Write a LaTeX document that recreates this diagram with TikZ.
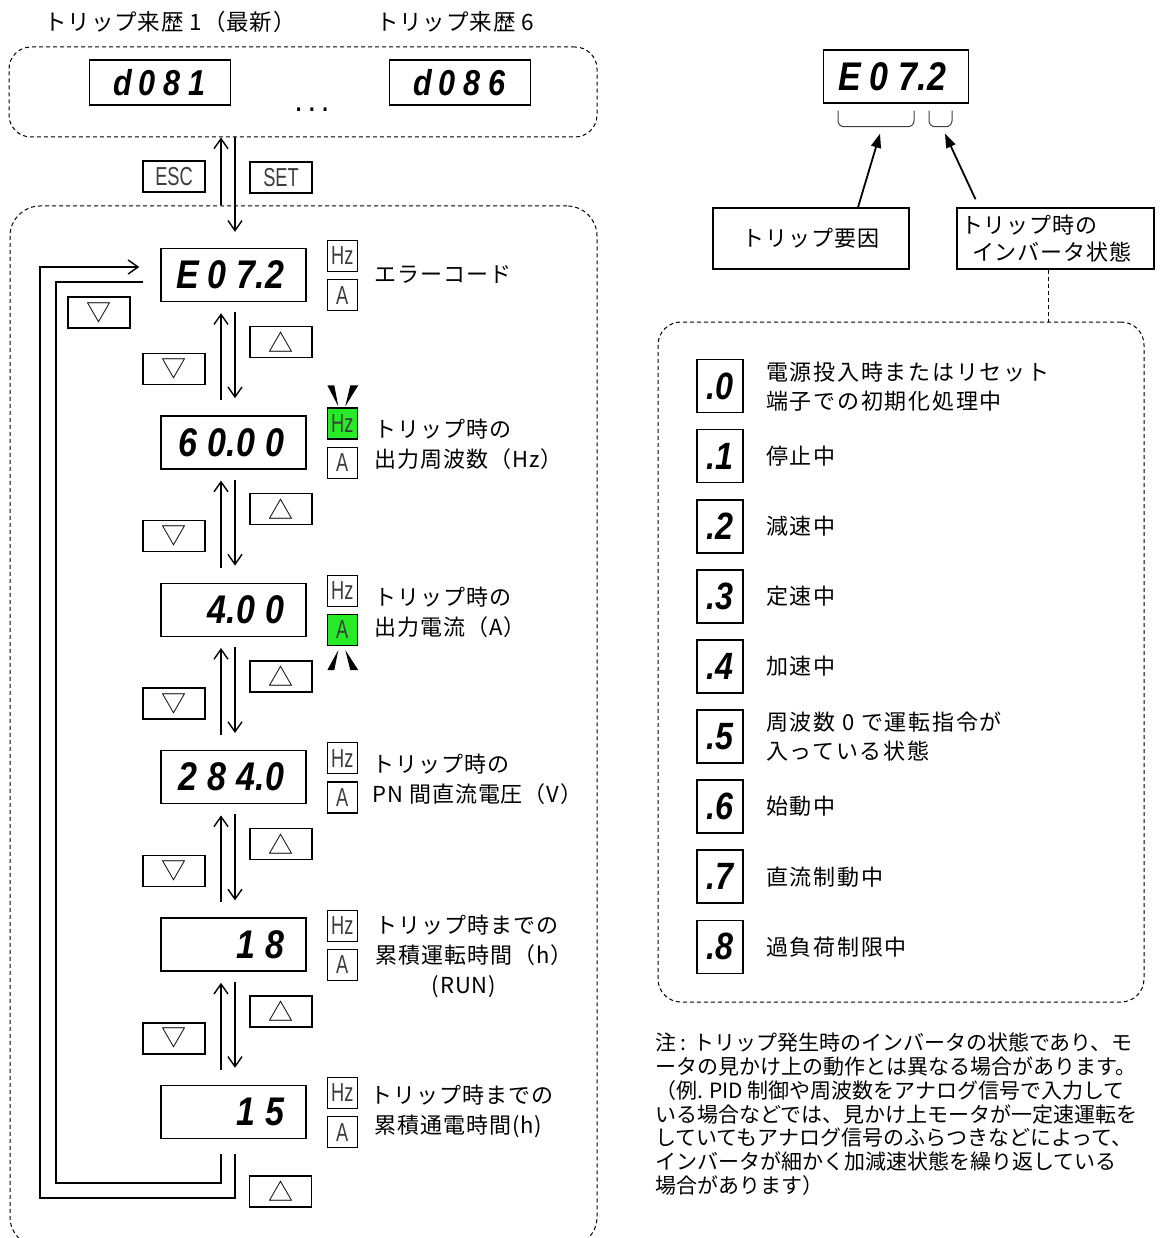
\documentclass[tikz,border=0pt]{standalone}
\usepackage{fontspec}
\setmainfont{Noto Sans CJK JP}
\newfontfamily\segfont{Liberation Sans}[FakeStretch=0.85]
\newfontfamily\keyfont{Liberation Sans}[FakeStretch=0.7]
\newfontfamily\jpfont{Noto Sans CJK JP}[LetterSpace=4]
\newfontfamily\jpwide{Noto Sans CJK JP}[LetterSpace=8]
\usetikzlibrary{arrows.meta,positioning,calc}
\definecolor{ledgreen}{RGB}{40,235,40}
\definecolor{keygray}{RGB}{60,60,60}
\newlength\segcell
\setlength\segcell{29pt}
\makeatletter
\newcommand\segtext[1]{\@tfor\segch:=#1\do{\if.\segch\makebox[0pt]{.}\else\makebox[\segcell]{\segch}\fi}}
\makeatother
\newcommand\segdisp[1]{\makebox[111pt][r]{\segtext{#1}}}
\tikzset{
  dispbox/.style={draw, line width=1.4pt, minimum width=145pt, minimum height=53pt, inner sep=0pt,
    font=\segfont\bfseries\itshape\fontsize{40}{40}\selectfont},
  histbox/.style={draw, line width=1.4pt, minimum width=141pt, minimum height=45pt, inner sep=0pt,
    font=\segfont\bfseries\itshape\fontsize{36}{36}\selectfont\setlength\segcell{25pt}},
  unitbox/.style={draw, line width=1.2pt, minimum width=30pt, minimum height=31pt, inner sep=0pt,
    font=\keyfont\fontsize{26}{26}\selectfont, text=keygray},
  litbox/.style={unitbox, fill=ledgreen},
  keybox/.style={draw, line width=1.4pt, minimum width=62pt, minimum height=31pt, inner sep=0pt,
    font=\keyfont\fontsize{26}{26}\selectfont, text=keygray},
  trikey/.style={keybox, font=\fontsize{25}{25}\selectfont, text=black},
  statebox/.style={draw, line width=1.6pt, minimum width=46pt, minimum height=53pt, inner sep=0pt,
    font=\segfont\bfseries\itshape\fontsize{38}{38}\selectfont},
  infobox/.style={draw, line width=1.4pt, minimum height=61pt, font=\jpfont\fontsize{22}{27}\selectfont},
  toptext/.style={inner sep=0pt, font=\jpfont\fontsize{22.5}{26}\selectfont},
  menutext/.style={anchor=west, inner sep=0pt, align=left, font=\jpfont\fontsize{22}{30}\selectfont},
  legendtext/.style={anchor=west, inner sep=0pt, align=left, font=\jpwide\fontsize{22}{29}\selectfont},
  notetext/.style={anchor=north west, inner sep=0pt, align=left, font=\fontsize{21}{23.7}\selectfont},
  groupbox/.style={draw, dashed, dash pattern=on 4pt off 3pt, line width=1pt, rounded corners=#1},
  groupbox/.default=22pt,
  bracket/.style={line width=1pt, rounded corners=6pt, draw=black!75},
  flow/.style={-{Straight Barb[length=10pt,width=14pt,line width=1.4pt]}, line width=1.4pt},
  pointer/.style={-{Triangle[length=14pt,width=10pt]}, line width=1.8pt},
  dashline/.style={dashed, dash pattern=on 4pt off 3pt, line width=1pt}
}

\begin{document}
\begin{tikzpicture}[x=1pt, y=-1pt]
\useasboundingbox (0,0) rectangle (1162,1238);

% trip history
\node[groupbox, minimum width=588pt, minimum height=90pt] (hist) at (303,92) {};
\node[histbox] (h1) at (160,82.5) {\segtext{d081}};
\node[histbox] (h6) at (460,82.5) {\segtext{d086}};
\node[toptext] (l1) at (170,22) {トリップ来歴 1（最新）};
\node[toptext] (l6) at (455,22) {トリップ来歴 6};
\node[inner sep=0pt, font=\segfont\bfseries\fontsize{24}{24}\selectfont] (dots) at (312,110) {. . .};

% monitor menu
\node[groupbox=30pt, minimum width=587pt, minimum height=1041pt] (menu) at (303.5,726.5) {};
\node[dispbox] (d1) at (233.5,275) {\segdisp{E07.2}};
\node[dispbox, below=113pt of d1] (d2) {\segdisp{60.00}};
\node[dispbox, below=113pt of d2] (d3) {\segdisp{4.00}};
\node[dispbox, below=113pt of d3] (d4) {\segdisp{284.0}};
\node[dispbox, below=113pt of d4] (d5) {\segdisp{18}};
\node[dispbox, below=113pt of d5] (d6) {\segdisp{15}};

\node[unitbox, right=20pt of d1.east, yshift=19pt] (hz1) {Hz};
\node[unitbox, below=7pt of hz1] (a1) {A};
\node[litbox, right=20pt of d2.east, yshift=19pt] (hz2) {Hz};
\node[unitbox, below=7pt of hz2] (a2) {A};
\node[unitbox, right=20pt of d3.east, yshift=19pt] (hz3) {Hz};
\node[litbox, below=7pt of hz3] (a3) {A};
\node[unitbox, right=20pt of d4.east, yshift=19pt] (hz4) {Hz};
\node[unitbox, below=7pt of hz4] (a4) {A};
\node[unitbox, right=20pt of d5.east, yshift=19pt] (hz5) {Hz};
\node[unitbox, below=7pt of hz5] (a5) {A};
\node[unitbox, right=20pt of d6.east, yshift=19pt] (hz6) {Hz};
\node[unitbox, below=7pt of hz6] (a6) {A};

\node[menutext] (t1) at ($(d1.east)+(68,0)$) {エラーコード};
\node[menutext] (t2) at ($(d2.east)+(68,2)$) {トリップ時の\\出力周波数（Hz）};
\node[menutext] (t3) at ($(d3.east)+(68,2)$) {トリップ時の\\出力電流（A）};
\node[menutext] (t4) at ($(d4.east)+(66,2)$) {トリップ時の\\PN 間直流電圧（V）};
\node[menutext] (t5) at ($(d5.east)+(69,12)$) {トリップ時までの\\累積運転時間（h）\\\hspace*{56pt}(RUN)};
\node[menutext] (t6) at ($(d6.east)+(64,-1)$) {トリップ時までの\\\hspace*{4pt}累積通電時間(h)};

% blinking lamps
\fill ($(hz2.north)+(-15,-22)$) -- ($(hz2.north)+(-8,-22)$) -- ($(hz2.north)+(-4,-1)$) -- cycle;
\fill ($(hz2.north)+(8,-22)$) -- ($(hz2.north)+(16,-22)$) -- ($(hz2.north)+(3,-1)$) -- cycle;
\fill ($(a3.south)+(-15,24)$) -- ($(a3.south)+(-8,24)$) -- ($(a3.south)+(-4,4)$) -- cycle;
\fill ($(a3.south)+(8,24)$) -- ($(a3.south)+(16,24)$) -- ($(a3.south)+(3,4)$) -- cycle;

% ESC / SET
\draw[flow] ($(d1.north |- menu.north)+(-12.5,0)$) -- ($(d1.north |- hist.south)+(-12.5,0)$);
\draw[flow] ($(d1.north |- hist.south)+(1.5,0)$) -- ($(d1.north)+(1.5,-16)$);
\node[keybox] (esc) at ($(d1.north |- hist.south)!0.5!(d1.north |- menu.north)+(-59.5,5)$) {ESC};
\node[keybox] (set) at ($(d1.north |- hist.south)!0.5!(d1.north |- menu.north)+(47.5,6)$) {SET};

% up / down keys
\draw[flow] ($(d2.north)+(-12.5,-15)$) -- ($(d1.south)+(-12.5,11)$);
\draw[flow] ($(d1.south)+(1.5,10)$) -- ($(d2.north)+(1.5,-17)$);
\node[trikey] (dn1) at ($(d1.south)!0.5!(d2.north)+(-59.5,10)$) {▽};
\node[trikey] (up1) at ($(d1.south)!0.5!(d2.north)+(47.5,-17)$) {△};
\draw[flow] ($(d3.north)+(-12.5,-15)$) -- ($(d2.south)+(-12.5,11)$);
\draw[flow] ($(d2.south)+(1.5,10)$) -- ($(d3.north)+(1.5,-17)$);
\node[trikey] (dn2) at ($(d2.south)!0.5!(d3.north)+(-59.5,10)$) {▽};
\node[trikey] (up2) at ($(d2.south)!0.5!(d3.north)+(47.5,-17)$) {△};
\draw[flow] ($(d4.north)+(-12.5,-15)$) -- ($(d3.south)+(-12.5,11)$);
\draw[flow] ($(d3.south)+(1.5,10)$) -- ($(d4.north)+(1.5,-17)$);
\node[trikey] (dn3) at ($(d3.south)!0.5!(d4.north)+(-59.5,10)$) {▽};
\node[trikey] (up3) at ($(d3.south)!0.5!(d4.north)+(47.5,-17)$) {△};
\draw[flow] ($(d5.north)+(-12.5,-15)$) -- ($(d4.south)+(-12.5,11)$);
\draw[flow] ($(d4.south)+(1.5,10)$) -- ($(d5.north)+(1.5,-17)$);
\node[trikey] (dn4) at ($(d4.south)!0.5!(d5.north)+(-59.5,10)$) {▽};
\node[trikey] (up4) at ($(d4.south)!0.5!(d5.north)+(47.5,-17)$) {△};
\draw[flow] ($(d6.north)+(-12.5,-15)$) -- ($(d5.south)+(-12.5,11)$);
\draw[flow] ($(d5.south)+(1.5,10)$) -- ($(d6.north)+(1.5,-17)$);
\node[trikey] (dn5) at ($(d5.south)!0.5!(d6.north)+(-59.5,10)$) {▽};
\node[trikey] (up5) at ($(d5.south)!0.5!(d6.north)+(47.5,-17)$) {△};

% wrap-around
\node[trikey] (dn0) at ($(d1.center)+(-134.5,37.5)$) {▽};
\node[trikey] (up6) at ($(d6.center)+(47,79.5)$) {△};
\coordinate (wrapin) at (56,1183);
\coordinate (wrapout) at (40,1198);
\draw[line width=1.4pt] ($(d6.south)+(-12.5,15)$) |- (wrapin) |- ($(d1.west)+(-17,7)$);
\draw[flow] ($(d6.south)+(1.5,15)$) |- (wrapout) |- ($(d1.west)+(-21,-8)$);

% error code detail
\node[dispbox] (big) at (896,76.5) {\segdisp{E07.2}};
\draw[bracket] ($(big.south)+(-58,7)$) |- ($(big.south)+(18,23)$) -- ($(big.south)+(18,7)$);
\draw[bracket] ($(big.south)+(33,7)$) |- ($(big.south)+(56,23)$) -- ($(big.south)+(56,7)$);
\node[infobox, minimum width=196pt] (cause) at (811,238.5) {トリップ要因};
\node[infobox, text width=189pt, inner xsep=4pt, align=left] (state) at (1055.5,238.5) {トリップ時の\\\hspace*{11pt}インバータ状態};
\draw[pointer] ($(cause.north)+(47,0)$) -- ($(big.south)+(-16,30)$);
\draw[pointer] ($(state.north)+(-80,-8)$) -- ($(big.south)+(49,30)$);

% inverter states
\node[groupbox=23pt, minimum width=486pt, minimum height=680pt] (legend) at (901,662) {};
\coordinate (tap) at ($(state.south)+(-7,0)$);
\draw[dashline] (tap) -- (tap |- legend.north);
\node[statebox] (s0) at (720,386) {.0};
\node[statebox, below=15.5pt of s0] (s1) {.1};
\node[statebox, below=15.5pt of s1] (s2) {.2};
\node[statebox, below=15.5pt of s2] (s3) {.3};
\node[statebox, below=15.5pt of s3] (s4) {.4};
\node[statebox, below=15.5pt of s4] (s5) {.5};
\node[statebox, below=15.5pt of s5] (s6) {.6};
\node[statebox, below=15.5pt of s6] (s7) {.7};
\node[statebox, below=15.5pt of s7] (s8) {.8};
\node[legendtext] (e0) at ($(s0.east)+(22,1)$) {電源投入時またはリセット\\端子での初期化処理中};
\node[legendtext] (e1) at ($(s1.east)+(22,0)$) {停止中};
\node[legendtext] (e2) at ($(s2.east)+(22,0)$) {減速中};
\node[legendtext] (e3) at ($(s3.east)+(22,0)$) {定速中};
\node[legendtext] (e4) at ($(s4.east)+(22,0)$) {加速中};
\node[legendtext] (e5) at ($(s5.east)+(22,0)$) {周波数 0 で運転指令が\\入っている状態};
\node[legendtext] (e6) at ($(s6.east)+(22,0)$) {始動中};
\node[legendtext] (e7) at ($(s7.east)+(22,0)$) {直流制動中};
\node[legendtext] (e8) at ($(s8.east)+(22,0)$) {過負荷制限中};

\node[notetext] (note) at (655,1033) {注 : トリップ発生時のインバータの状態であり、モ\\ータの見かけ上の動作とは異なる場合があります。\\（例. PID 制御や周波数をアナログ信号で入力して\\いる場合などでは、見かけ上モータが一定速運転を\\していてもアナログ信号のふらつきなどによって、\\インバータが細かく加減速状態を繰り返している\\場合があります）};
\end{tikzpicture}
\end{document}
